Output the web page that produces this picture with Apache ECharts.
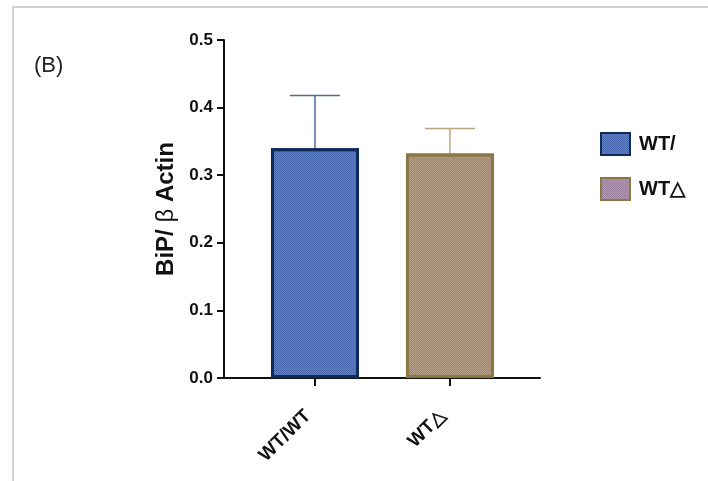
<!DOCTYPE html>
<html>
<head>
<meta charset="utf-8">
<script src="https://cdn.jsdelivr.net/npm/echarts@6/dist/echarts.min.js"></script>
<style>
html,body{margin:0;padding:0;background:#fff;}
#c{width:708px;height:481px;}
</style>
</head>
<body>
<div id="c"></div>
<script>
var categories = ['WT/WT', 'WT\u25B3'];
var legendNames = ['WT/', 'WT\u25B3'];
var positions = [1, 2];
var means = [0.340, 0.332];
var errUpper = [0.418, 0.369];
var yTicks = [0, 0.1, 0.2, 0.3, 0.4, 0.5];

var font = '"Liberation Sans", Arial, sans-serif';
var chart = echarts.init(document.getElementById('c'));

function errItem(params, api) {
  var x = api.value(0), m = api.value(1), u = api.value(2);
  var p0 = api.coord([x, m]);
  var p1 = api.coord([x, u]);
  var half = 25;
  var col = params.dataIndex === 0 ? '#4d6a98' : '#b8a683';
  return {
    type: 'group',
    children: [
      {type: 'line', shape: {x1: p0[0], y1: p0[1], x2: p1[0], y2: p1[1]}, style: {stroke: col, lineWidth: 1.5}},
      {type: 'line', shape: {x1: p1[0] - half, y1: p1[1], x2: p1[0] + half, y2: p1[1]}, style: {stroke: col, lineWidth: 1.5}}
    ]
  };
}

var option = {
  backgroundColor: '#fff',
  animation: false,
  graphic: [
    {type: 'rect', shape: {x: 13, y: 7, width: 760, height: 520}, style: {fill: 'none', stroke: '#d2d2d2', lineWidth: 2}, silent: true, z: -10},
    {type: 'text', left: 34, top: 55, style: {text: '(B)', font: '22px ' + font, fill: '#222'}}
  ],
  legend: {
    orient: 'vertical',
    left: 595,
    top: 127,
    itemWidth: 29,
    itemHeight: 22,
    itemGap: 21,
    icon: 'rect',
    textStyle: {fontFamily: font, fontWeight: 'bold', fontSize: 20, color: '#111', padding: [0, 0, 0, 4]},
    data: legendNames
  },
  grid: {left: 224, right: 168, top: 40, bottom: 103},
  xAxis: {
    type: 'value',
    min: 0.326,
    max: 2.667,
    splitLine: {show: false},
    axisLine: {show: true, onZero: false, lineStyle: {color: '#111', width: 2}},
    axisTick: {show: true, customValues: positions, length: 8, lineStyle: {color: '#111', width: 2}},
    axisLabel: {
      customValues: positions,
      rotate: 45,
      margin: 28,
      padding: [0, 10, 0, 0],
      fontFamily: font,
      fontWeight: 'bold',
      fontSize: 19,
      color: '#111',
      formatter: function (v) { var i = positions.indexOf(Math.round(v)); return i >= 0 ? categories[i] : ''; }
    }
  },
  yAxis: {
    type: 'value',
    min: 0,
    max: 0.5,
    interval: 0.1,
    splitLine: {show: false},
    axisLine: {show: true, lineStyle: {color: '#111', width: 2}},
    axisTick: {show: true, length: 7, lineStyle: {color: '#111', width: 2}},
    axisLabel: {
      margin: 11,
      fontFamily: font,
      fontWeight: 'bold',
      fontSize: 17,
      color: '#111',
      formatter: function (v) { return v.toFixed(1); }
    },
    name: '{b|BiP/ }{n|\u03B2}{b| Actin}',
    nameLocation: 'middle',
    nameGap: 46,
    nameRotate: 90,
    nameTextStyle: {
      rich: {
        b: {fontFamily: font, fontWeight: 'bold', fontSize: 24, color: '#111'},
        n: {fontFamily: font, fontWeight: 'normal', fontSize: 24, color: '#111'}
      }
    }
  },
  series: [
    {
      name: legendNames[0],
      type: 'bar',
      barWidth: 88,
      barGap: '-100%',
      data: [[positions[0], means[0]]],
      itemStyle: {
        color: '#4565ad',
        borderColor: '#0f2a5c',
        borderWidth: 3,
        decal: {symbol: 'rect', symbolSize: 1, color: 'rgba(120,150,210,0.6)', dashArrayX: [[1, 1], [0, 1, 1, 0]], dashArrayY: [1, 0], rotation: 0}
      },
      z: 2
    },
    {
      name: legendNames[1],
      type: 'bar',
      barWidth: 88,
      barGap: '-100%',
      data: [[positions[1], means[1]]],
      itemStyle: {
        color: '#b39d86',
        borderColor: '#8c7645',
        borderWidth: 3,
        decal: {symbol: 'rect', symbolSize: 1, color: 'rgba(140,110,175,0.6)', dashArrayX: [[1, 1], [0, 1, 1, 0]], dashArrayY: [1, 0], rotation: 0}
      },
      z: 2
    },
    {
      type: 'custom',
      renderItem: errItem,
      data: positions.map(function (p, i) { return [p, means[i], errUpper[i]]; }),
      z: 1,
      silent: true
    }
  ]
};
chart.setOption(option);
</script>
</body>
</html>
